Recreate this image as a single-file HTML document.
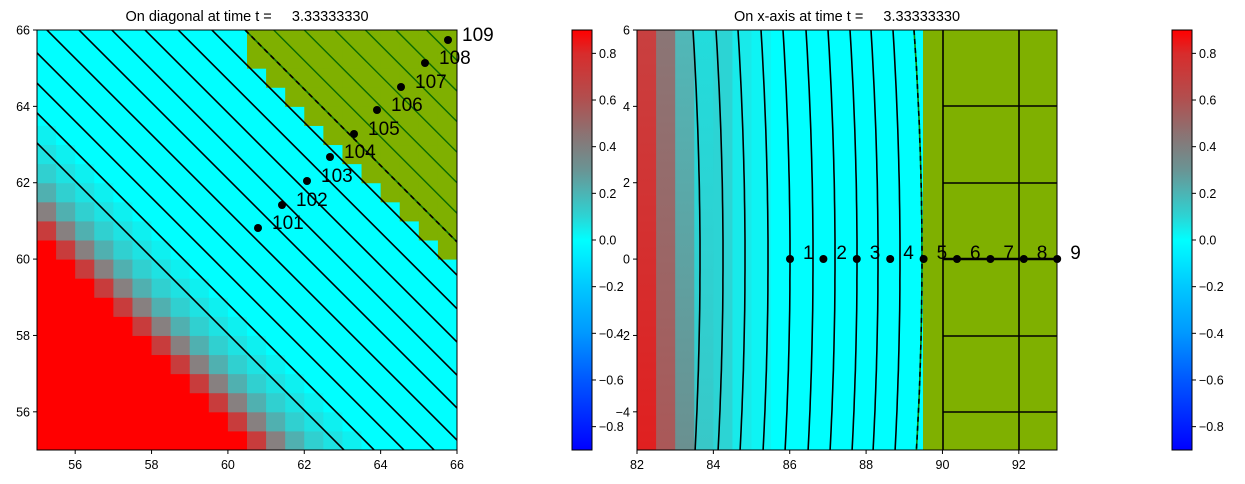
<!DOCTYPE html>
<html><head><meta charset="utf-8"><style>
html,body{margin:0;padding:0;background:#fff;overflow:hidden;width:1245px;height:484px;}
svg{display:block;}
svg text{font-family:"Liberation Sans","DejaVu Sans",sans-serif;white-space:pre;}
</style></head><body>
<svg id="s" width="1245" height="484" xmlns="http://www.w3.org/2000/svg">
<defs>
<linearGradient id="cm" x1="0" y1="0" x2="0" y2="1">
<stop offset="0" stop-color="#ff0000"/>
<stop offset="0.056" stop-color="#d82c2c"/>
<stop offset="0.167" stop-color="#b05050"/>
<stop offset="0.25" stop-color="#8a7474"/>
<stop offset="0.333" stop-color="#6a9494"/>
<stop offset="0.389" stop-color="#4cb4b4"/>
<stop offset="0.444" stop-color="#2cd4d4"/>
<stop offset="0.5" stop-color="#00ffff"/>
<stop offset="0.611" stop-color="#00c8ff"/>
<stop offset="0.722" stop-color="#0098ff"/>
<stop offset="0.833" stop-color="#0058ff"/>
<stop offset="1" stop-color="#0000ff"/>
</linearGradient>
<linearGradient id="c0" x1="0" y1="0" x2="0" y2="1"><stop offset="0" stop-color="#c84040"/><stop offset="1" stop-color="#e02020"/></linearGradient>
<linearGradient id="c1" x1="0" y1="0" x2="0" y2="1"><stop offset="0" stop-color="#8a7676"/><stop offset="1" stop-color="#aa5858"/></linearGradient>
<linearGradient id="c2" x1="0" y1="0" x2="0" y2="1"><stop offset="0" stop-color="#50b8b8"/><stop offset="1" stop-color="#6a9090"/></linearGradient>
<linearGradient id="c3" x1="0" y1="0" x2="0" y2="1"><stop offset="0" stop-color="#22dcdc"/><stop offset="1" stop-color="#38c8c8"/></linearGradient>
<clipPath id="ca"><rect x="37" y="30" width="420" height="420"/></clipPath>
<clipPath id="cb"><rect x="637" y="30" width="420" height="420"/></clipPath>
</defs>
<g id="L" clip-path="url(#ca)"></g>
<g id="R" clip-path="url(#cb)"></g>
<g id="T"></g>
<text x="247" y="21" font-size="14.5" text-anchor="middle" xml:space="preserve">On diagonal at time t =     3.33333330</text>
<text x="847" y="21" font-size="14.5" text-anchor="middle" xml:space="preserve">On x-axis at time t =     3.33333330</text>
</svg>
<script>
var NS="http://www.w3.org/2000/svg";
function el(p,t,a,txt){var e=document.createElementNS(NS,t);for(var k in a)e.setAttribute(k,a[k]);if(txt!==undefined)e.textContent=txt;p.appendChild(e);return e;}
var L=document.getElementById('L'),R=document.getElementById('R'),T=document.getElementById('T');
var u=420/11;
function lx(x){return 37+(x-55)*u;} function ly(y){return 30+(66-y)*u;}
for(var i=0;i<22;i++)for(var j=0;j<22;j++){
 var xc=55.25+0.5*i,yc=55.25+0.5*j,s=xc+yc,c;
 if(s>=126.49)c="#7fb000";else if(s<=116.01)c="#ff0000";else if(s<=116.51)c="#c83c3c";else if(s<=117.01)c="#878080";else if(s<=117.51)c="#50b0b0";else if(s<=118.01)c="#30d0d0";else if(s<=118.51)c="#1ee2e2";else if(s<=119.01)c="#0ef0f0";else c="#00ffff";
 el(L,'rect',{x:lx(xc-0.25),y:ly(yc+0.25),width:u+0.5,height:u+0.5,fill:c});
}
function diag(c,col,w,dash){var a={x1:lx(c-70),y1:ly(70),x2:lx(c-50),y2:ly(50),stroke:col,'stroke-width':w};if(dash)a['stroke-dasharray']=dash;el(L,'line',a);}
[118.04,118.83,119.61,120.4,121.26,122.1,122.96,123.83,124.7,125.58].forEach(function(c){diag(c,"#000",1.6);});
for(var c=127.2;c<133;c+=0.8)diag(c,"#0a6a00",1.4);
diag(126.45,"#0a6a00",1.6);diag(126.45,"#000",1.6,"5,4");
var pts=[[258,228],[282,205],[307,181],[330,157],[354,134],[377,110],[401,87],[425,63],[448,40]];
pts.forEach(function(p,k){el(T,'circle',{cx:p[0],cy:p[1],r:4,fill:'#000'});el(T,'text',{x:p[0]+14,y:p[1]+1,'font-size':19},String(101+k));});
el(T,'rect',{x:37,y:30,width:420,height:420,fill:'none',stroke:'#000','stroke-width':1});
var cols=['url(#c0)','url(#c1)','url(#c2)','url(#c3)','#2cd4d4','#18eaea','#0ef4f4'];
el(R,'rect',{x:637,y:30,width:420,height:420,fill:'#00ffff'});
cols.forEach(function(c,k){el(R,'rect',{x:637+k*u/2,y:30,width:u/2+0.5,height:420,fill:c});});
el(R,'rect',{x:923,y:30,width:134,height:420,fill:'#7fb000'});
var tops=[693,716,738,761,783,806,828,850,871,893];
function curve(x0,b){var d="";for(var y=30;y<=450;y+=10){var t=(y-259)/229;var x=x0+b*(1-t*t);d+=(y==30?"M":"L")+x.toFixed(1)+","+y;}return d;}
tops.forEach(function(x){el(R,'path',{d:curve(x,7),fill:'none',stroke:'#000','stroke-width':1.6});});
el(R,'path',{d:curve(914,8),fill:'none',stroke:'#0a8a00','stroke-width':1.6});
el(R,'path',{d:curve(914,8),fill:'none',stroke:'#000','stroke-width':1.6,'stroke-dasharray':'5,4'});
[943,1019].forEach(function(x){el(R,'line',{x1:x,y1:30,x2:x,y2:450,stroke:'#000','stroke-width':1.6});});
[106,183,336,412].forEach(function(y){el(R,'line',{x1:943,y1:y,x2:1057,y2:y,stroke:'#000','stroke-width':1.6});});
el(R,'line',{x1:943,y1:259,x2:1057,y2:259,stroke:'#000','stroke-width':2.4});
for(var k=0;k<9;k++){var x=790+k*33.4;el(T,'circle',{cx:x,cy:259,r:4,fill:'#000'});el(T,'text',{x:x+13,y:259,'font-size':19},String(k+1));}
el(T,'rect',{x:637,y:30,width:420,height:420,fill:'none',stroke:'#000','stroke-width':1});
var cbv=[0.8,0.6,0.4,0.2,0.0,-0.2,-0.4,-0.6,-0.8];
[572,1172].forEach(function(x){
 el(T,'rect',{x:x,y:30,width:20,height:420,fill:'url(#cm)',stroke:'#000','stroke-width':1});
 cbv.forEach(function(v){var y=240-v*233.3;el(T,'line',{x1:x+20,y1:y,x2:x+24,y2:y,stroke:'#000'});
  el(T,'text',{x:x+27,y:y+4.5,'font-size':12.5},(v<0?"\u2212":"")+Math.abs(v).toFixed(1));});
});
function xt(x,lab){el(T,'line',{x1:x,y1:450,x2:x,y2:454,stroke:'#000'});el(T,'text',{x:x,y:469,'font-size':12.5,'text-anchor':'middle'},lab);}
function yt(x,y,lab){el(T,'line',{x1:x,y1:y,x2:x-4,y2:y,stroke:'#000'});el(T,'text',{x:x-7,y:y+4.5,'font-size':12.5,'text-anchor':'end'},lab);}
[56,58,60,62,64,66].forEach(function(v){xt(lx(v),String(v));yt(37,ly(v),String(v));});
[82,84,86,88,90,92].forEach(function(v){xt(637+(v-82)*u,String(v));});
[6,4,2,0,-2,-4].forEach(function(v){yt(637,30+(6-v)*u,(v<0?"\u2212":"")+Math.abs(v));});
</script>
</body></html>
